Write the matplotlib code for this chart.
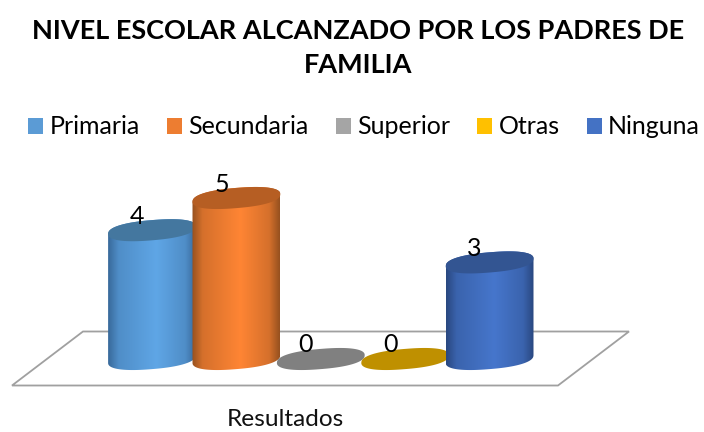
import numpy as np
import matplotlib
matplotlib.use("Agg")
import matplotlib.pyplot as plt
from matplotlib.colors import LinearSegmentedColormap, to_rgb
from matplotlib.patches import Patch, Polygon

plt.rcParams['font.family'] = ['Lato', 'DejaVu Sans']

categorias = ['Primaria', 'Secundaria', 'Superior', 'Otras', 'Ninguna']
valores = [4, 5, 0, 0, 3]

color_leyenda = ['#5b9bd5', '#ed7d31', '#a5a5a5', '#ffc000', '#4472c4']
color_centro = ['#5fa6e6', '#ff8534', '#b2b2b2', '#ffce00', '#4676cc']
color_borde = ['#38699a', '#96501f', '#707070', '#9a7400', '#29477f']
color_tapa = ['#44779f', '#b65e23', '#808080', '#bf9000', '#335592']

# geometry in pixels
base_y = 359
px_por_unidad = 32.2
x0 = 152
paso = 84.4
a, b = 44, 10.2
theta = np.radians(4.5)
p = 0.85  # a bit blunter than a true ellipse, like the 3D render


def elipse(cx, cy, t):
    c = np.sign(np.cos(t)) * np.abs(np.cos(t)) ** p
    s = np.sign(np.sin(t)) * np.abs(np.sin(t)) ** p
    x = cx + a * c * np.cos(theta) - b * s * np.sin(theta)
    y = cy - a * c * np.sin(theta) + b * s * np.cos(theta)
    return np.column_stack([x, y])


def mezcla(c1, c2, f):
    return tuple((1 - f) * np.array(to_rgb(c1)) + f * np.array(to_rgb(c2)))


fig = plt.figure(figsize=(7.04, 4.32), dpi=100)
ax = fig.add_axes([0, 0, 1, 1])

piso = Polygon([(83, 331.5), (629, 331.5), (558, 385.5), (12, 385.5)], closed=True,
               facecolor='white', edgecolor='#a0a0a0', linewidth=1.3, zorder=1)
ax.add_patch(piso)

t_todo = np.linspace(0, 2 * np.pi, 360, endpoint=False)

for i, v in enumerate(valores):
    cx = x0 + i * paso
    tope = base_y - v * px_por_unidad
    z = 2 + i
    if v > 0:
        # side of the cylinder: lower half of the base, upper half of the top
        pts = elipse(cx, 0, t_todo)
        der = np.argmax(pts[:, 0])
        pts = np.roll(pts, -der, axis=0)
        izq = np.argmin(pts[:, 0])
        inferior = pts[:izq + 1] + [0, base_y]
        superior = np.vstack([pts[izq:], pts[:1]]) + [0, tope]
        cuerpo = Polygon(np.vstack([inferior, superior]), closed=True, transform=ax.transData)
        medio = mezcla(color_borde[i], color_centro[i], 0.6)
        cmap = LinearSegmentedColormap.from_list('c' + str(i), [
            (0.0, color_borde[i]),
            (0.12, medio),
            (0.55, color_centro[i]),
            (0.88, medio),
            (1.0, color_borde[i])])
        grad = np.linspace(0, 1, 256).reshape(1, -1)
        im = ax.imshow(grad, cmap=cmap, aspect='auto', zorder=z, interpolation='bilinear',
                       extent=(cx - a, cx + a, base_y + 12, tope - 12))
        im.set_clip_path(cuerpo)
    ax.add_patch(Polygon(elipse(cx, tope, t_todo), closed=True, facecolor=color_tapa[i],
                         edgecolor='none', zorder=z + 0.1))
    ax.text(cx - 15, tope - 14, str(v), fontsize=18, color='black',
            ha='center', va='center', zorder=10)

ax.set_xlim(0, 704)
ax.set_ylim(432, 0)
ax.axis('off')

ax.text(358, 31, 'NIVEL ESCOLAR ALCANZADO POR LOS PADRES DE', fontsize=19.5, fontweight='bold',
        ha='center', va='center', color='black')
ax.text(358, 65, 'FAMILIA', fontsize=19.5, fontweight='bold', ha='center', va='center', color='black')
ax.text(285, 420, 'Resultados', fontsize=17.6, ha='center', va='center', color='#111111')

handles = [Patch(facecolor=c, edgecolor='none', label=n) for c, n in zip(color_leyenda, categorias)]
ax.legend(handles=handles, ncols=5, loc='center', bbox_to_anchor=(364, 127), bbox_transform=ax.transData,
          frameon=False, fontsize=18, handlelength=0.6, handleheight=0.6, handletextpad=0.25,
          columnspacing=1.09, borderpad=0, borderaxespad=0)

fig.savefig('out.png', dpi=100)
